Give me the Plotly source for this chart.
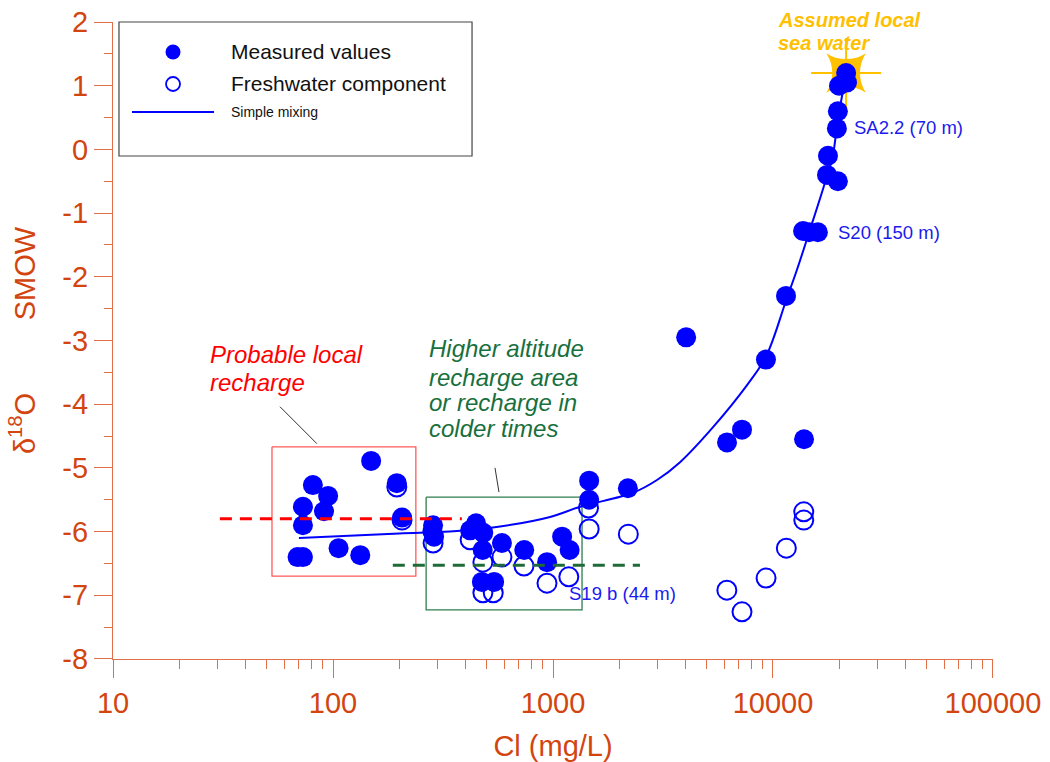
import plotly.graph_objects as go

# ---------------- data ----------------
measured_cl = [21500, 19950, 21700, 19720, 19520, 17780, 17600, 19720,
               13700, 14600, 16000, 11460, 9290, 4030, 7230, 6180, 13840,
               2190, 1460, 1460, 1100, 1190, 940, 740, 586, 479, 447, 420, 482,
               475, 540, 285, 283, 288,
               149, 195, 81, 95, 73, 91, 206, 73, 69, 73, 106, 133]
measured_d18o = [1.2, 1.0, 1.05, 0.6, 0.33, -0.1, -0.4, -0.5,
                 -1.28, -1.3, -1.3, -2.3, -3.3, -2.95, -4.4, -4.6, -4.55,
                 -5.32, -5.2, -5.5, -6.08, -6.29, -6.48, -6.29, -6.18, -6.29, -5.87, -5.98, -6.02,
                 -6.79, -6.79, -5.9, -6.0, -6.08,
                 -4.89, -5.24, -5.27, -5.44, -5.61, -5.68, -5.78, -5.9, -6.4, -6.4, -6.26, -6.37]

fresh_cl = [195, 206, 285, 420, 480, 586, 738, 939, 1180, 480, 535,
            1450, 1460, 2200, 13800, 13800, 11500, 9300, 6170, 7230]
fresh_d18o = [-5.30, -5.82, -6.18, -6.13, -6.48, -6.40, -6.54, -6.81, -6.71, -6.96, -6.96,
              -5.63, -5.96, -6.04, -5.69, -5.82, -6.26, -6.73, -6.92, -7.26]

mixing_cl = [70, 200, 340, 575, 970, 1330, 2310, 2970, 3780, 5340, 7620, 9300,
             11500, 12850, 14700, 17200, 18700, 19600, 21500]
mixing_d18o = [-6.10, -6.03, -6.00, -5.92, -5.77, -5.61, -5.39, -5.19, -4.91, -4.36, -3.70, -3.25,
               -2.36, -1.89, -1.27, -0.53, -0.10, 0.40, 1.20]

sea_cl = [21500]
sea_d18o = [1.2]

local_dash_cl = [30.6, 385]
local_dash_d18o = [-5.8, -5.8]
alt_dash_cl = [187, 2485]
alt_dash_d18o = [-6.53, -6.53]

local_box_cl = [52.8, 238, 238, 52.8, 52.8]
local_box_d18o = [-4.67, -4.67, -6.70, -6.70, -4.67]
alt_box_cl = [265, 1355, 1355, 265, 265]
alt_box_d18o = [-5.46, -5.46, -7.23, -7.23, -5.46]

local_pointer_cl = [57.4, 84.5]
local_pointer_d18o = [-4.04, -4.62]
alt_pointer_cl = [545, 568]
alt_pointer_d18o = [-5.0, -5.38]

x_tickvals = [10, 100, 1000, 10000, 100000]
x_ticktext = ["10", "100", "1000", "10000", "100000"]
y_tickvals = [-8, -7, -6, -5, -4, -3, -2, -1, 0, 1, 2]
y_ticktext = [str(v) for v in y_tickvals]
x_minor = [m * 10 ** e for e in range(1, 5) for m in range(2, 10)]
y_minor = [v + 0.5 for v in y_tickvals[:-1]]

legend_labels = ["Measured values", "Freshwater component", "Simple mixing"]

# ---------------- styles ----------------
FONT = "Liberation Sans, Arial, sans-serif"
AXC = "#D2450F"
TICKC = "#E0704A"
BLUE = "#0000FF"
LBLUE = "#1A1AEE"
GOLD = "#FFC000"
RED = "#FF0000"
GREEN = "#17703D"

fig = go.Figure()

# boxes
fig.add_trace(go.Scatter(x=local_box_cl, y=local_box_d18o, mode="lines",
                         line=dict(color="#FF5A5A", width=1.3), hoverinfo="skip"))
fig.add_trace(go.Scatter(x=alt_box_cl, y=alt_box_d18o, mode="lines",
                         line=dict(color="#2E7D4E", width=1.3), hoverinfo="skip"))
fig.add_trace(go.Scatter(x=local_pointer_cl, y=local_pointer_d18o, mode="lines",
                         line=dict(color="#333333", width=1), hoverinfo="skip"))
fig.add_trace(go.Scatter(x=alt_pointer_cl, y=alt_pointer_d18o, mode="lines",
                         line=dict(color="#333333", width=1), hoverinfo="skip"))

# mixing curve
fig.add_trace(go.Scatter(x=mixing_cl, y=mixing_d18o, mode="lines",
                         line=dict(color=BLUE, width=2, shape="spline", smoothing=1.0),
                         name=legend_labels[2]))

# freshwater component (open)
fig.add_trace(go.Scatter(x=fresh_cl, y=fresh_d18o, mode="markers",
                         marker=dict(symbol="circle-open", size=19, color=BLUE,
                                     line=dict(width=2, color=BLUE)),
                         name=legend_labels[1]))

# sea water star
fig.add_trace(go.Scatter(x=sea_cl, y=sea_d18o, mode="markers",
                         marker=dict(symbol="cross-thin-open", size=50, color=GOLD,
                                     line=dict(width=2, color=GOLD)),
                         hoverinfo="skip"))
fig.add_trace(go.Scatter(x=sea_cl, y=sea_d18o, mode="markers",
                         marker=dict(symbol="star-square", size=36, color=GOLD,
                                     line=dict(width=0)),
                         hoverinfo="skip"))

# measured (filled)
fig.add_trace(go.Scatter(x=measured_cl, y=measured_d18o, mode="markers",
                         marker=dict(symbol="circle", size=20, color=BLUE, line=dict(width=0)),
                         name=legend_labels[0]))

# dashed reference lines (on top)
fig.add_trace(go.Scatter(x=local_dash_cl, y=local_dash_d18o, mode="lines",
                         line=dict(color=RED, width=3, dash="12px,8px"), hoverinfo="skip"))
fig.add_trace(go.Scatter(x=alt_dash_cl, y=alt_dash_d18o, mode="lines",
                         line=dict(color="#1E6B38", width=3, dash="12px,8px"), hoverinfo="skip"))

# ---------------- legend (overlay axes in plot-fraction units) ----------------
fig.add_trace(go.Scatter(x=[0.0682], y=[0.953], xaxis="x2", yaxis="y2", mode="markers",
                         marker=dict(symbol="circle", size=15, color=BLUE), hoverinfo="skip",
                         cliponaxis=False))
fig.add_trace(go.Scatter(x=[0.0682], y=[0.9027], xaxis="x2", yaxis="y2", mode="markers",
                         marker=dict(symbol="circle-open", size=14, color=BLUE,
                                     line=dict(width=1.8, color=BLUE)),
                         hoverinfo="skip", cliponaxis=False))
fig.add_trace(go.Scatter(x=[0.0216, 0.1148], y=[0.8587, 0.8587], xaxis="x2", yaxis="y2",
                         mode="lines", line=dict(color=BLUE, width=2), hoverinfo="skip",
                         cliponaxis=False))

shapes = [dict(type="rect", xref="paper", yref="paper", x0=0.0068, x1=0.408, y0=0.7896, y1=1.0,
               line=dict(color="#444444", width=1.2), fillcolor="rgba(0,0,0,0)")]

annotations = []
def txt(text, x, y, size, color, anchor="left"):
    annotations.append(dict(text=text, x=x, y=y, xref="paper", yref="paper",
                            xanchor=anchor, yanchor="middle", showarrow=False,
                            font=dict(family=FONT, size=size, color=color)))

txt(legend_labels[0], 0.1318, 0.953, 21, "#111111")
txt(legend_labels[1], 0.1318, 0.9027, 21, "#111111")
txt(legend_labels[2], 0.1318, 0.8587, 14, "#111111")

txt("<b><i>Assumed local</i></b>", 0.7534, 1.003, 20, GOLD)
txt("<b><i>sea water</i></b>", 0.7534, 0.967, 20, GOLD)
txt("SA2.2 (70 m)", 0.8398, 0.8336, 18.5, LBLUE)
txt("S20 (150 m)", 0.8216, 0.6703, 18.5, LBLUE)
txt("S19 b (44 m)", 0.5159, 0.1036, 18.5, LBLUE)
txt("<i>Probable local</i>", 0.1080, 0.4773, 24, RED)
txt("<i>recharge</i>", 0.1080, 0.4333, 24, RED)
txt("<i>Higher altitude</i>", 0.3568, 0.4882, 24, GREEN)
txt("<i>recharge area</i>", 0.3568, 0.4427, 24, GREEN)
txt("<i>or recharge in</i>", 0.3568, 0.4034, 24, GREEN)
txt("<i>colder times</i>", 0.3568, 0.3626, 24, GREEN)

fig.update_layout(
    width=1050, height=762,
    margin=dict(l=113, r=57, t=22, b=103, autoexpand=False),
    paper_bgcolor="white", plot_bgcolor="white",
    showlegend=False,
    font=dict(family=FONT, color=AXC),
    shapes=shapes, annotations=annotations,
    xaxis=dict(type="log", range=[0.9999, 5.0001], showgrid=False, zeroline=False, automargin=False,
               showline=True, linecolor=TICKC, linewidth=1.2, ticklabeloverflow="allow",
               ticks="outside", ticklen=18, tickwidth=1.2, tickcolor=TICKC,
               tickmode="array", tickvals=x_tickvals, ticktext=x_ticktext,
               tickfont=dict(family=FONT, size=29, color=AXC),
               minor=dict(ticks="outside", ticklen=9, tickwidth=1, tickcolor=TICKC,
                          tickmode="array", tickvals=x_minor, showgrid=False),
               title=dict(text="Cl (mg/L)", font=dict(family=FONT, size=29, color=AXC),
                          standoff=19)),
    yaxis=dict(range=[-8.0005, 2.0005], showgrid=False, zeroline=False, automargin=False,
               showline=True, linecolor=TICKC, linewidth=1.2, ticklabeloverflow="allow",
               ticks="outside", ticklen=18, tickwidth=1.2, tickcolor=TICKC,
               tickmode="array", tickvals=y_tickvals, ticktext=y_ticktext,
               tickfont=dict(family=FONT, size=29, color=AXC),
               minor=dict(ticks="outside", ticklen=8, tickwidth=1, tickcolor=TICKC,
                          tickmode="array", tickvals=y_minor, showgrid=False),
               title=dict(text="δ<sup>18</sup>O" + "\u00a0" * 9 + "SMOW",
                          font=dict(family=FONT, size=29, color=AXC), standoff=18)),
    xaxis2=dict(overlaying="x", anchor="y2", range=[0, 1], visible=False, fixedrange=True),
    yaxis2=dict(overlaying="y", anchor="x2", range=[0, 1], visible=False, fixedrange=True),
)

# remove the browser's default 8px body margin so the figure fills the window
fig.write_html("out.html",
               config={"displayModeBar": False},
               post_script="document.body.style.margin='0';document.body.style.overflow='hidden';")
